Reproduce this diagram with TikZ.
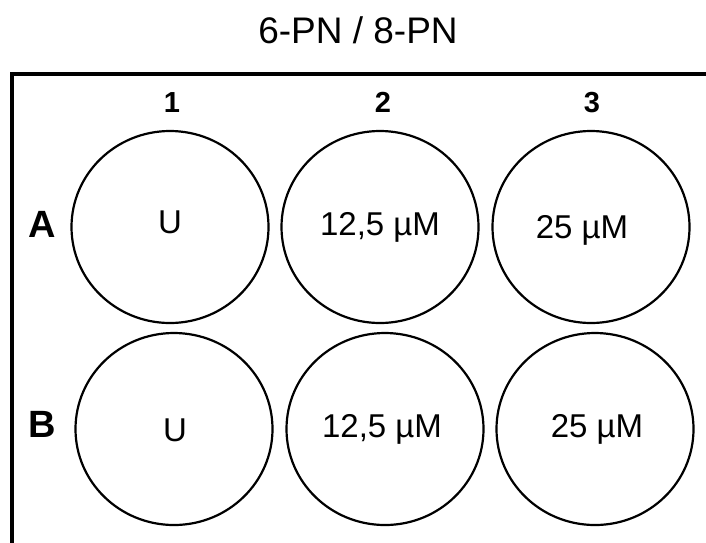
\documentclass[tikz,border=0pt]{standalone}
\usepackage{fontspec}
\setmainfont{Liberation Sans}
\usetikzlibrary{shapes.geometric}
\begin{document}
\begin{tikzpicture}[x=1pt,y=-1pt,
  well/.style={draw=black,line width=2.2pt,ellipse,minimum width=197pt,minimum height=192pt,inner sep=0pt},
  conc/.style={anchor=base,inner sep=0pt,font=\fontsize{33}{36}\selectfont},
  colnum/.style={anchor=base,inner sep=0pt,font=\fontsize{29}{32}\selectfont\bfseries},
  rowlab/.style={anchor=base,inner sep=0pt,font=\fontsize{38}{40}\selectfont\bfseries},
  frame/.style={draw=black,line width=3.5pt,line join=miter}]
\useasboundingbox (0,0) rectangle (706,542);
\fill[white] (0,0) rectangle (706,542);
% title
\node[anchor=base,inner sep=0pt,font=\fontsize{37}{40}\selectfont] (title) at (358,43) {6-PN / 8-PN};
% frame
\coordinate (fb) at (12,560);
\coordinate (fc) at (12,74);
\coordinate (fr) at (720,74);
\draw[frame] (fb) -- (fc) -- (fr);
% column numbers
\node[colnum] (c1) at (172,112) {1};
\node[colnum] (c2) at (383,112) {2};
\node[colnum] (c3) at (592,112) {3};
% row labels
\node[rowlab] (rA) at (42,237) {A};
\node[rowlab] (rB) at (42,437) {B};
% wells
\node[well] (A1) at (170,227) {};
\node[well] (A2) at (380,227) {};
\node[well] (A3) at (591,227) {};
\node[well] (B1) at (174,429) {};
\node[well] (B2) at (385,429) {};
\node[well] (B3) at (595,429) {};
% contents
\node[conc] (tA1) at (170,233) {U};
\node[conc] (tA2) at (380,235) {12,5 µM};
\node[conc] (tA3) at (582,238) {25 µM};
\node[conc] (tB1) at (175,441) {U};
\node[conc] (tB2) at (382,437) {12,5 µM};
\node[conc] (tB3) at (597,437) {25 µM};
\end{tikzpicture}
\end{document}
